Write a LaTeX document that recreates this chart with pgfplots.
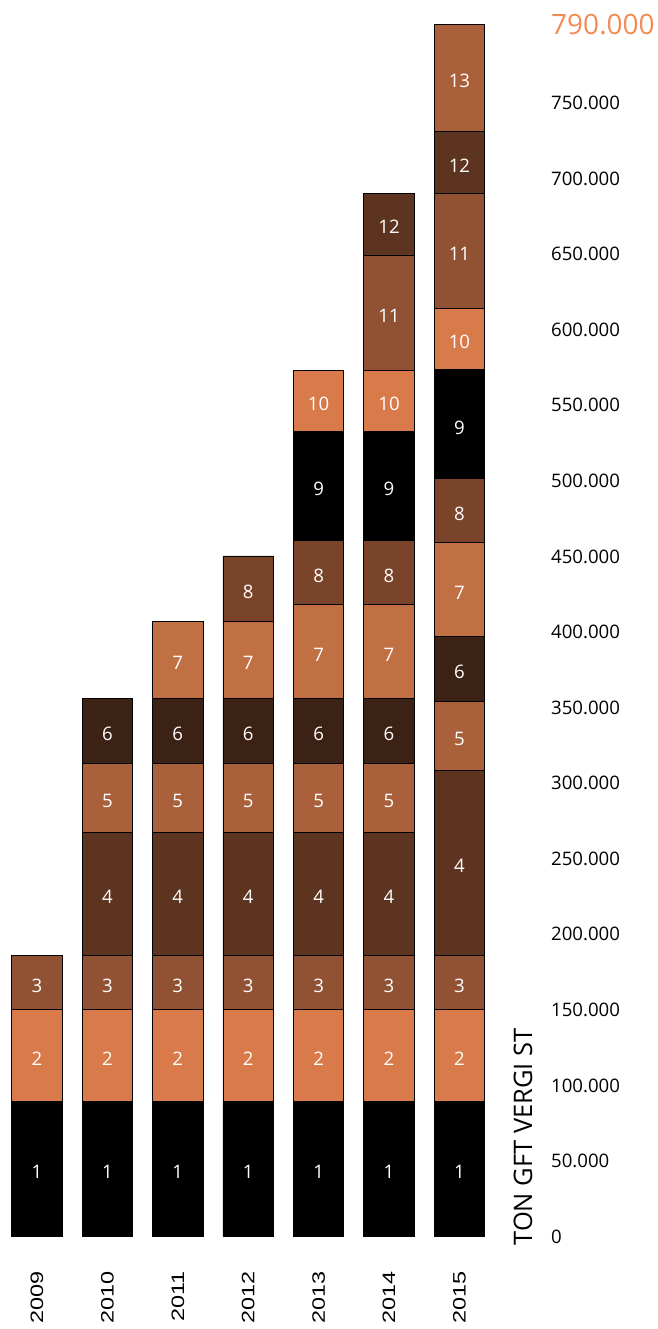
\documentclass[border=0pt]{standalone}
\usepackage{pgfplots}
\pgfplotsset{compat=1.18}
\usepackage{pgfplotstable}
\usepackage{fontspec}
\setmainfont{Open Sans}
\newfontfamily\yrfont[FakeStretch=1.3]{Liberation Sans}
\definecolor{cB}{HTML}{D97A4A}
\definecolor{cC}{HTML}{915234}
\definecolor{cD}{HTML}{5D341F}
\definecolor{cE}{HTML}{A9603B}
\definecolor{cF}{HTML}{3C2115}
\definecolor{cG}{HTML}{C17043}
\definecolor{cH}{HTML}{7A442B}
\definecolor{cTop}{HTML}{F08C55}

% values in thousands of tonnes
\pgfplotstableread{
x s1 s2 s3 s4 s5 s6 s7 s8 s9 s10 s11 s12 s13
0 89.3 61.1 35.6 0 0 0 0 0 0 0 0 0 0
1 89.3 61.1 35.6 81.5 45.7 43.0 0 0 0 0 0 0 0
2 89.3 61.1 35.6 81.5 45.7 43.0 50.9 0 0 0 0 0 0
3 89.3 61.1 35.6 81.5 45.7 43.0 50.9 43.2 0 0 0 0 0
4 89.3 61.1 35.6 81.5 45.7 43.0 61.9 42.3 72.1 40.4 0 0 0
5 89.3 61.1 35.6 81.5 45.7 43.0 61.9 42.3 72.1 40.4 76.5 40.8 0
6 89.3 61.1 35.6 122.6 45.4 43.0 62.2 42.1 72.1 40.4 76.5 40.7 71.0
}\data

\newcommand\seglabel[1]{%
  \pgfmathfloatifflags{\pgfplotspointmeta}{0}{}{#1}}

\pgfplotsset{
  seg/.style n args={2}{
    fill=#1, draw=black, line width=0.8pt,
    point meta=explicit,
    nodes near coords={\seglabel{#2}},
    every node near coord/.append style={anchor=center, text=white,
      inner sep=0pt, yshift=-3pt, font=\fontsize{18.6}{20}\selectfont},
  }
}

\begin{document}
\begin{tikzpicture}
\begin{axis}[
  scale only axis, width=551pt, height=1271pt,
  xmin=-0.5256, xmax=7.301, ymin=-22.69, ymax=818.08,
  ybar stacked, bar width=50.5pt,
  axis line style={draw=none}, major tick length=0pt, tick style={draw=none},
  xtick={0,1,2,3,4,5,6},
  xticklabels={2009,2010,2011,2012,2013,2014,2015},
  xticklabel style={rotate=90, anchor=east, inner sep=0pt,
    font=\yrfont\fontsize{18}{20}\selectfont},
  ytick={0,50,100,150,200,250,300,350,400,450,500,550,600,650,700,750},
  yticklabels={0,50.000,100.000,150.000,200.000,250.000,300.000,350.000,400.000,450.000,500.000,550.000,600.000,650.000,700.000,750.000},
  yticklabel pos=right,
  yticklabel style={anchor=west, inner sep=0pt, font=\fontsize{18.6}{20}\selectfont},
  extra y ticks={802},
  extra y tick labels={790.000},
  extra y tick style={yticklabel style={font=\fontsize{28}{30}\selectfont, text=cTop}},
  clip=false,
]
\addplot[seg={black}{1}] table[x=x,y=s1,meta=s1]{\data};
\addplot[seg={cB}{2}] table[x=x,y=s2,meta=s2]{\data};
\addplot[seg={cC}{3}] table[x=x,y=s3,meta=s3]{\data};
\addplot[seg={cD}{4}] table[x=x,y=s4,meta=s4]{\data};
\addplot[seg={cE}{5}] table[x=x,y=s5,meta=s5]{\data};
\addplot[seg={cF}{6}] table[x=x,y=s6,meta=s6]{\data};
\addplot[seg={cG}{7}] table[x=x,y=s7,meta=s7]{\data};
\addplot[seg={cH}{8}] table[x=x,y=s8,meta=s8]{\data};
\addplot[seg={black}{9}] table[x=x,y=s9,meta=s9]{\data};
\addplot[seg={cB}{10}] table[x=x,y=s10,meta=s10]{\data};
\addplot[seg={cC}{11}] table[x=x,y=s11,meta=s11]{\data};
\addplot[seg={cD}{12}] table[x=x,y=s12,meta=s12]{\data};
\addplot[seg={cE}{13}] table[x=x,y=s13,meta=s13]{\data};
\node[rotate=90, anchor=west, inner sep=0pt, font=\fontsize{25.5}{28}\selectfont]
  at (axis cs:6.903,-6.0) {TON GFT VERGI ST};
\coordinate (nw) at (rel axis cs:0,1);
\end{axis}
\pgfresetboundingbox
\path[use as bounding box] (nw) rectangle ([shift={(657pt,-1329pt)}]nw);
\end{tikzpicture}
\end{document}
